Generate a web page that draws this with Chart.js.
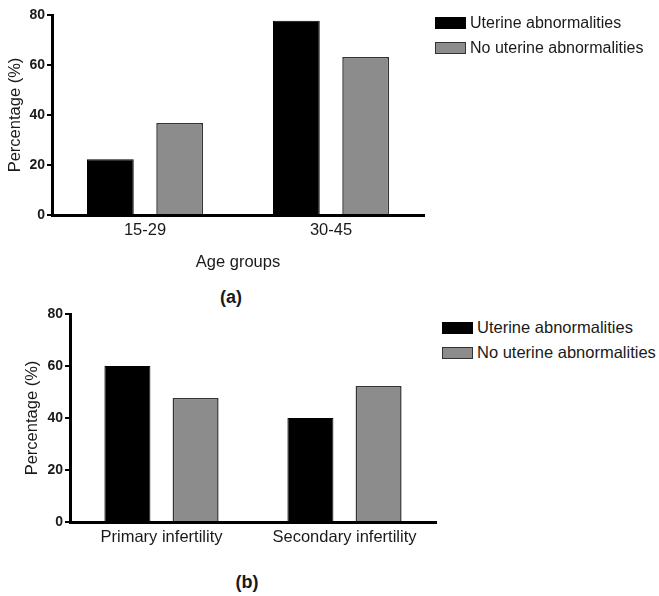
<!DOCTYPE html>
<html>
<head>
<meta charset="utf-8">
<title>Uterine abnormalities</title>
<script src="https://cdn.jsdelivr.net/npm/chart.js@4.4.0/dist/chart.umd.min.js"></script>
<style>
    body { margin: 0; background: #fff; font-family: "Liberation Sans", Arial, sans-serif; color: #1a1a1a; }
    #wrap { position: relative; width: 659px; height: 596px; overflow: hidden; }
    canvas { position: absolute; left: 0; }
    .legend { position: absolute; font-size: 16px; line-height: 25px; }
    .legend .item { display: flex; align-items: center; white-space: nowrap; }
    .legend .box { display: inline-block; width: 29px; height: 10px; margin-right: 4px; border: 1px solid #333; }
    .caption { position: absolute; font-weight: bold; font-size: 18px; transform: translate(-50%, -50%); }
</style>
</head>
<body>
<div id="wrap">
    <canvas id="chartA" width="440" height="280" style="top:0"></canvas>
    <div class="legend" id="legendA" style="left:435px; top:10px"></div>
    <div class="caption" style="left:231px; top:297px">(a)</div>

    <canvas id="chartB" width="440" height="260" style="top:300px"></canvas>
    <div class="legend" id="legendB" style="left:442px; top:315px; font-size:16.5px"></div>
    <div class="caption" style="left:247px; top:582px">(b)</div>
</div>

<script>
// data
const seriesNames = ['Uterine abnormalities', 'No uterine abnormalities'];

const ageGroups = ['15-29', '30-45'];
const ageUterine = [22.3, 77.7];
const ageNoUterine = [36.8, 63.2];

const infertilityTypes = ['Primary infertility', 'Secondary infertility'];
const infUterine = [60, 40];
const infNoUterine = [47.7, 52.3];

const yTicks = [0, 20, 40, 60, 80];

const colors = {
    black: '#000000',
    gray: '#8c8c8c',
    edge: '#333333',
    text: '#1a1a1a'
};

const FONT = '"Liberation Sans", Arial, sans-serif';

function makeDatasets(uterine, noUterine) {
    return [{
        label: seriesNames[0],
        data: uterine,
        backgroundColor: colors.black,
        borderColor: colors.black,
        borderWidth: 1
    }, {
        label: seriesNames[1],
        data: noUterine,
        backgroundColor: colors.gray,
        borderColor: colors.edge,
        borderWidth: 1.5
    }];
}

// opts: yWidth, xHeight, yTitlePad, xTickPad, xTitle
function makeOptions(opts) {
    return {
        responsive: false,
        animation: false,
        layout: { padding: opts.padding },
        datasets: {
            bar: { categoryPercentage: 0.745, barPercentage: 0.675 }
        },
        plugins: {
            legend: { display: false },
            tooltip: { enabled: false }
        },
        scales: {
            x: {
                grid: { display: false, drawTicks: false },
                border: { display: true, color: '#000', width: 3 },
                ticks: {
                    color: colors.text,
                    padding: opts.xTickPad,
                    font: { family: FONT, size: 16.5 }
                },
                title: {
                    display: !!opts.xTitle,
                    text: opts.xTitle || '',
                    color: colors.text,
                    padding: { top: 0, bottom: 8 },
                    font: { family: FONT, size: 16.5 }
                },
                afterFit: function(scale) { scale.height = opts.xHeight; }
            },
            y: {
                min: 0,
                max: 80,
                afterBuildTicks: function(scale) {
                    scale.ticks = yTicks.map(v => ({ value: v }));
                },
                grid: {
                    drawOnChartArea: false,
                    drawTicks: true,
                    tickLength: 5,
                    color: '#000',
                    lineWidth: 2
                },
                border: { display: true, color: '#000', width: 3 },
                ticks: {
                    color: colors.text,
                    padding: 2,
                    font: { family: FONT, size: 14, weight: 'bold' }
                },
                title: {
                    display: true,
                    text: 'Percentage (%)',
                    color: colors.text,
                    padding: { top: opts.yTitlePad, bottom: 2 },
                    font: { family: FONT, size: 16.5 }
                },
                afterFit: function(scale) { scale.width = opts.yWidth; }
            }
        }
    };
}

function buildLegend(id, datasets) {
    const el = document.getElementById(id);
    el.innerHTML = datasets.map(ds =>
        '<div class="item"><span class="box" style="background:' + ds.backgroundColor +
        ';border-color:' + ds.borderColor + '"></span>' + ds.label + '</div>'
    ).join('');
}

// (a) age groups
const dataA = makeDatasets(ageUterine, ageNoUterine);
new Chart(document.getElementById('chartA'), {
    type: 'bar',
    data: { labels: ageGroups, datasets: dataA },
    options: makeOptions({
        padding: { top: 15, right: 16, left: 0, bottom: 0 },
        yWidth: 52,
        xHeight: 65,
        yTitlePad: 6,
        xTickPad: 6,
        xTitle: 'Age groups'
    })
});
buildLegend('legendA', dataA);

// (b) infertility type
const dataB = makeDatasets(infUterine, infNoUterine);
new Chart(document.getElementById('chartB'), {
    type: 'bar',
    data: { labels: infertilityTypes, datasets: dataB },
    options: makeOptions({
        padding: { top: 14, right: 4, left: 0, bottom: 0 },
        yWidth: 70,
        xHeight: 38,
        yTitlePad: 23,
        xTickPad: 6,
        xTitle: ''
    })
});
buildLegend('legendB', dataB);
</script>
</body>
</html>
